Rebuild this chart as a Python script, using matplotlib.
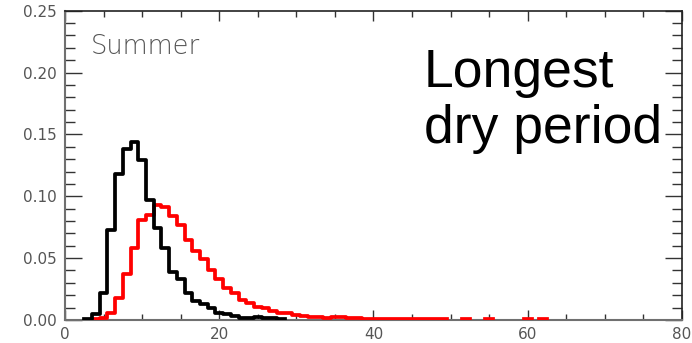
import numpy as np
import matplotlib
matplotlib.use("Agg")
import matplotlib.pyplot as plt
from matplotlib.ticker import MultipleLocator

# longest dry period histogram, summer; bins centred on integer days
black_days = np.arange(3, 29)
black_freq = [0.001, 0.005, 0.022, 0.073, 0.118, 0.138, 0.144, 0.129, 0.097, 0.074,
              0.058, 0.039, 0.033, 0.022, 0.015, 0.013, 0.010, 0.0054, 0.0046, 0.0035,
              0.002, 0.002, 0.0025, 0.0014, 0.0014, 0.0005]

red_days = np.arange(4, 63)
red_freq = [0.0008, 0.0015, 0.0054, 0.0175, 0.037, 0.058, 0.081, 0.085, 0.093, 0.091,
            0.084, 0.077, 0.065, 0.056, 0.049, 0.040, 0.033, 0.026, 0.022, 0.016,
            0.0134, 0.0107, 0.0094, 0.0075, 0.0059, 0.0054, 0.004, 0.0035, 0.0027, 0.0027,
            0.002, 0.0025, 0.0025, 0.0013, 0.0013, 0.0012, 0.0010, 0.0006, 0.0006, 0.0006,
            0.0006, 0.0006, 0.0009, 0.0009, 0.0009, 0.0009, np.nan, np.nan, 0.0005, np.nan,
            np.nan, 0.0005, np.nan, np.nan, np.nan, np.nan, 0.0005, np.nan, 0.0005]


def steps(days, freq):
    edges = np.r_[days - 0.5, days[-1] + 0.5]
    vals = np.r_[freq, freq[-1]]
    return edges, vals


fig = plt.figure(figsize=(6.92, 3.43), dpi=100)
ax = fig.add_axes([0.0939, 0.0671, 0.8916, 0.9017])

x, y = steps(red_days, np.array(red_freq))
ax.step(x, y, where="post", color="#ff0000", lw=2.7, zorder=3)
x, y = steps(black_days, np.array(black_freq))
ax.step(x, y, where="post", color="black", lw=2.7, zorder=4)

ax.set_xlim(0, 80)
ax.set_ylim(0, 0.25)
ax.xaxis.set_major_locator(MultipleLocator(20))
ax.xaxis.set_minor_locator(MultipleLocator(5))
ax.yaxis.set_major_locator(MultipleLocator(0.05))
ax.yaxis.set_minor_locator(MultipleLocator(0.01))
ax.yaxis.set_major_formatter(matplotlib.ticker.FormatStrFormatter("%.2f"))

ax.tick_params(which="both", direction="in", top=True, right=True,
               color="#333333", width=1, labelsize=11, labelcolor="#555555")
ax.tick_params(axis="y", which="major", length=12, pad=6)
ax.tick_params(axis="y", which="minor", length=7)
ax.tick_params(axis="x", which="major", length=7, pad=5)
ax.tick_params(axis="x", which="minor", length=4)
for side in ["left", "bottom"]:
    ax.spines[side].set_color("#707070")
    ax.spines[side].set_linewidth(1.5)
for side in ["top", "right"]:
    ax.spines[side].set_color("#222222")
    ax.spines[side].set_linewidth(1.2)

fig.text(91 / 692, 1 - 54 / 343, "Summer", fontsize=18.5, color="#555555",
         fontweight="light", va="baseline")
fig.text(424 / 692, 1 - 143 / 343, "Longest\ndry period", fontsize=38.5,
         family="Liberation Sans", color="black", va="baseline", linespacing=1.15)

plt.savefig("out.png", dpi=100)
